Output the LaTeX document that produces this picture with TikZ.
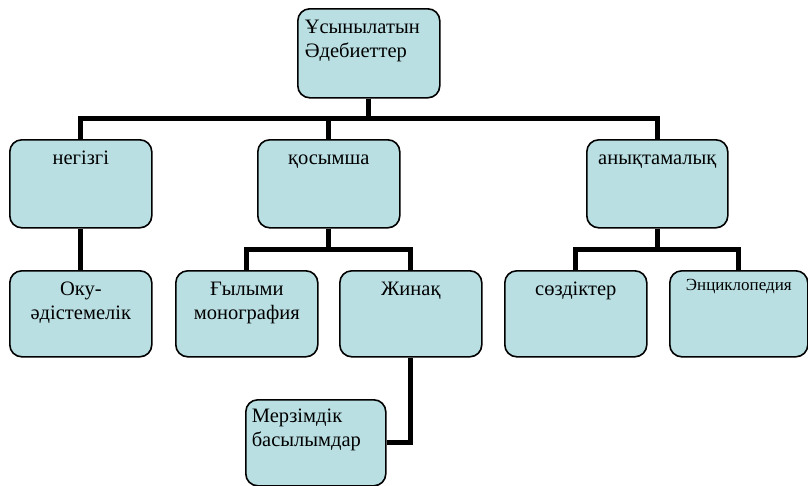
\documentclass[tikz,border=0pt]{standalone}
\usepackage{fontspec}
\setmainfont{Liberation Serif}
\definecolor{entryfill}{RGB}{185,223,227}

\begin{document}
\begin{tikzpicture}[x=1pt, y=-1pt,
    link/.style={draw=black, line width=5pt, line join=miter},
    entry/.style={draw=black, line width=1.6pt, rounded corners=12pt,
        fill=entryfill, anchor=north west, inner xsep=7pt, inner ysep=0pt,
        text width=128pt, align=center, text height=25pt, text depth=63pt,
        font=\fontsize{20.5}{24}\selectfont},
    low entry/.style={entry, text depth=61pt},
    note entry/.style={entry, align=left}
]
\useasboundingbox (0,0) rectangle (808,485);

% top of the tree
\node[note entry, text depth=64pt] (source) at (297,8)
    {Ұсынылатын\\Әдебиеттер};

% second row
\node[entry] (main) at (9,139) {негізгі};
\node[entry] (extra) at (257,139) {қосымша};
\node[entry, text width=127pt] (reference) at (586,139) {анықтамалық};

% third row
\node[low entry] (study) at (9,270) {Оку-\\әдістемелік};
\node[low entry] (science) at (175,270) {Ғылыми\\монография};
\node[low entry] (collection) at (339,270) {Жинақ};
\node[low entry] (dictionary) at (504,270) {сөздіктер};
\node[low entry, text width=124pt, text height=20pt, text depth=66pt,
    font=\fontsize{17}{20}\selectfont] (encyclopedia) at (669,270)
    {Энциклопедия};

% under the collection
\node[note entry, inner xsep=6pt, text height=23pt, text depth=63pt]
    (periodical) at (245,399) {Мерзімдік\\басылымдар};

% connectors
\draw[link] (source.south) -- ++(0,20) -| (main.north);
\draw[link] (source.south) -- ++(0,20) -| (extra.north);
\draw[link] (source.south) -- ++(0,20) -| (reference.north);
\draw[link] (main.south) -- (study.north);
\draw[link] (extra.south) -- ++(0,21) -| (science.north);
\draw[link] (extra.south) -- ++(0,21) -| (collection.north);
\draw[link] (reference.south) -- ++(0,21) -| (dictionary.north);
\draw[link] (reference.south) -- ++(0,21) -| (encyclopedia.north);
\draw[link] (collection.south) |- (periodical.east);

\end{tikzpicture}
\end{document}
